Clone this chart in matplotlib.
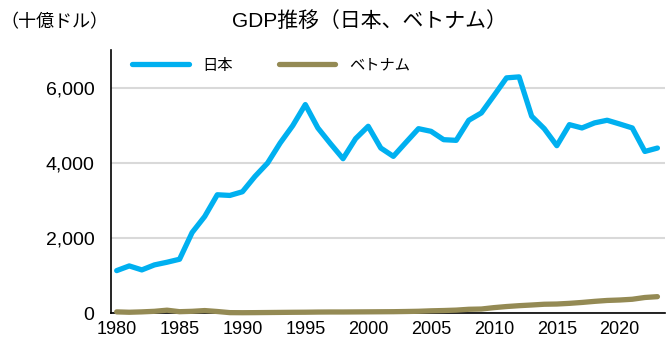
# GDP of Japan and Vietnam, 1980-2023 (billions of US dollars)
import matplotlib.pyplot as plt
from matplotlib.ticker import FuncFormatter

plt.rcParams['font.family'] = ['Liberation Sans', 'Noto Sans CJK JP', 'DejaVu Sans']

years = list(range(1980, 2024))

japan = [1128, 1253, 1147, 1280, 1351, 1431, 2142, 2569, 3147, 3129,
         3227, 3636, 3991, 4524, 4987, 5547, 4924, 4507, 4107, 4640,
         4969, 4391, 4169, 4540, 4906, 4835, 4613, 4595, 5130, 5325,
         5787, 6258, 6284, 5236, 4906, 4453, 5013, 4925, 5060, 5130,
         5030, 4925, 4300, 4390]

vietnam = [30, 20, 30, 45, 75, 35, 45, 65, 40, 10,
           8, 10, 13, 16, 19, 21, 25, 27, 27, 29,
           31, 33, 35, 40, 46, 58, 66, 77, 99, 106,
           143, 172, 195, 213, 233, 239, 257, 281, 310, 334,
           346, 366, 413, 435]

JAPAN_COLOR = '#00B0F0'
VIETNAM_COLOR = '#948A54'

fig = plt.figure(figsize=(6.7, 3.44), dpi=100)
ax = fig.add_axes([0.1657, 0.0901, 0.8268, 0.7646])

ax.plot(years, japan, color=JAPAN_COLOR, lw=3.8, solid_capstyle='round',
        solid_joinstyle='round', label='日本', zorder=3)
ax.plot(years, vietnam, color=VIETNAM_COLOR, lw=3.8, solid_capstyle='round',
        solid_joinstyle='round', label='ベトナム', zorder=3, clip_on=False)

ax.set_xlim(1979.55, 2023.6)
ax.set_ylim(0, 7000)
ax.set_xticks(range(1980, 2024, 5))
ax.set_yticks([0, 2000, 4000, 6000])
ax.yaxis.set_major_formatter(FuncFormatter(lambda v, p: f'{int(v):,}'))
ax.tick_params(axis='x', length=0, pad=6, labelsize=13)
ax.tick_params(axis='y', length=0, pad=12, labelsize=14)

ax.grid(axis='y', color='#D9D9D9', lw=1.5)
ax.set_axisbelow(True)
for side in ['top', 'right']:
    ax.spines[side].set_visible(False)
for side in ['left', 'bottom']:
    ax.spines[side].set_color('black')
    ax.spines[side].set_linewidth(1.2)

ax.legend(loc='center left', bbox_to_anchor=(0.038, 0.94), ncol=2,
          frameon=False, fontsize=11, handlelength=3.7, handletextpad=0.9,
          columnspacing=3.0, borderpad=0, borderaxespad=0)

fig.text(0.552, 0.939, 'GDP推移（日本、ベトナム）', ha='center', va='center', fontsize=15)
fig.text(0.0, 0.933, '（十億ドル）', ha='left', va='center', fontsize=13)

fig.savefig('out.png', dpi=100)
